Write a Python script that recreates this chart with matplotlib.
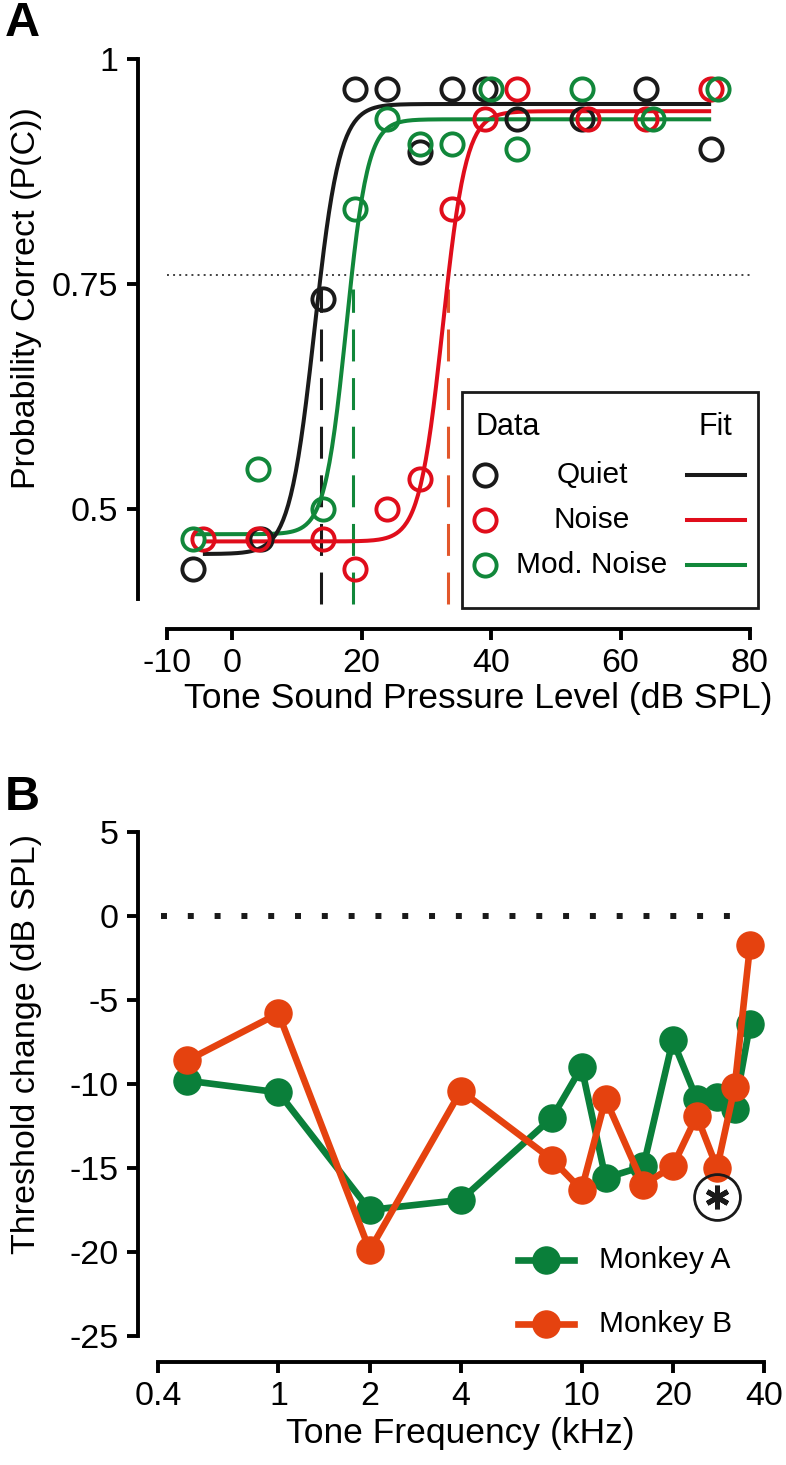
import numpy as np
import matplotlib
matplotlib.use('Agg')
import matplotlib.pyplot as plt
from matplotlib.lines import Line2D
from matplotlib.patches import Rectangle

plt.rcParams['font.family'] = ['Liberation Sans', 'DejaVu Sans']
plt.rcParams['lines.scale_dashes'] = False
plt.rcParams['axes.unicode_minus'] = False

W, H = 786, 1465

# ---- panel A: psychometric data (tone level dB SPL, proportion correct)
level_quiet = [-6, 4.5, 14, 19, 24, 29, 34, 39, 44, 54, 64, 74]
pc_quiet = [0.433, 0.467, 0.733, 0.967, 0.967, 0.897, 0.967, 0.967, 0.933, 0.933, 0.967, 0.9]
level_noise = [-4.5, 4, 14, 19, 24, 29, 34, 39, 44, 55, 64, 74]
pc_noise = [0.467, 0.467, 0.467, 0.433, 0.5, 0.533, 0.833, 0.933, 0.967, 0.933, 0.933, 0.967]
level_mod = [-6, 4, 14, 19, 24, 29, 34, 40, 44, 54, 65, 75]
pc_mod = [0.467, 0.545, 0.5, 0.833, 0.933, 0.906, 0.906, 0.967, 0.9, 0.967, 0.933, 0.967]

# logistic fit parameters: quiet, noise, mod. noise
fit_lo = [0.45, 0.464, 0.472]
fit_hi = [0.95, 0.942, 0.933]
fit_mid = [12.75, 32.55, 17.65]
fit_slope = [1.94, 1.81, 1.66]
fit_start = [-4.5, -4.5, -6]
fit_end = 74
thresholds = [13.75, 33.4, 18.7]
criterion = 0.76

# ---- panel B: threshold change vs tone frequency
freq_khz = [0.5, 1, 2, 4, 8, 10, 12, 16, 20, 24, 28, 32, 36]
monkey_a = [-9.8, -10.5, -17.5, -16.9, -12.0, -9.0, -15.6, -14.9, -7.4, -10.9, -10.8, -11.5, -6.4]
monkey_b = [-8.6, -5.8, -19.9, -10.4, -14.5, -16.3, -10.9, -16.0, -14.9, -11.9, -15.0, -10.2, -1.7]
star_freq, star_val = 28, -16.7

black = '#1a1a1a'
red = '#e00d1b'
green = '#11873a'
red_dash = '#e2572b'
green_b = '#0a7f3a'
orange_b = '#e5420f'


def box(l, t, r, b):
    # pixel box -> figure fraction rect
    return [l / W, 1 - b / H, (r - l) / W, (b - t) / H]


def fx(px):
    return px / W


def fy(py):
    return 1 - py / H


fig = plt.figure(figsize=(W / 100, H / 100), dpi=100)

# ================= panel A =================
ax = fig.add_axes(box(138, 59, 750, 629))
ax.set_xlim(-14.52, 80)
ax.set_ylim(0.3667, 1.0)

ax.plot([-10, 80], [criterion, criterion], color='#333333', lw=1.3,
        linestyle=(0, (1.4, 3.0)), zorder=1)

colors_fit = [black, red, green]
dash_cols = [black, red_dash, green]
for i in range(3):
    ax.plot([thresholds[i], thresholds[i]], [0.394, 0.745], color=dash_cols[i],
            lw=2.2, linestyle=(0, (23, 12)), zorder=2)

for i in [1, 2, 0]:
    xs = np.linspace(fit_start[i], fit_end, 400)
    ys = fit_lo[i] + (fit_hi[i] - fit_lo[i]) / (1 + np.exp(-(xs - fit_mid[i]) / fit_slope[i]))
    ax.plot(xs, ys, color=colors_fit[i], lw=2.9, zorder=3, solid_capstyle='butt')

for lv, pc, c in [(level_quiet, pc_quiet, black), (level_noise, pc_noise, red),
                  (level_mod, pc_mod, green)]:
    ax.plot(lv, pc, 'o', ms=16, mfc='none', mec=c, mew=2.8, clip_on=False, zorder=4)

for s in ['top', 'right']:
    ax.spines[s].set_visible(False)
for s in ['left', 'bottom']:
    ax.spines[s].set_linewidth(2.8)
ax.spines['left'].set_bounds(0.4, 1.0)
ax.spines['bottom'].set_bounds(-10, 80)
ax.set_xticks([-10, 0, 20, 40, 60, 80])
ax.set_xticklabels(['-10', '0', '20', '40', '60', '80'])
ax.set_yticks([0.5, 0.75, 1.0])
ax.set_yticklabels(['0.5', '0.75', '1'])
ax.tick_params(direction='out', length=8, width=2.8, labelsize=24.5, pad=6)

fig.text(fx(478), fy(698), 'Tone Sound Pressure Level (dB SPL)', fontsize=25.5,
         ha='center', va='center')
fig.text(fx(27), fy(298), 'Probability Correct (P(C))', fontsize=24.5,
         rotation=90, ha='center', va='center')
fig.text(fx(22), fy(24), 'A', fontsize=35, fontweight='bold', ha='center', va='center')

# legend A, drawn by hand
fig.add_artist(Rectangle((fx(462), fy(608)), (758 - 462) / W, (608 - 392) / H,
                         transform=fig.transFigure, fill=False, lw=2, ec=black))
fig.text(fx(476), fy(427), 'Data', fontsize=22, ha='left', va='center')
fig.text(fx(715), fy(427), 'Fit', fontsize=22, ha='center', va='center')
leg_rows = [('Quiet', black), ('Noise', red), ('Mod. Noise', green)]
for k, (name, c) in enumerate(leg_rows):
    yy = fy(475 + 45 * k)
    fig.add_artist(Line2D([fx(485)], [yy], marker='o', ms=16, mfc='none', mec=c,
                          mew=2.8, transform=fig.transFigure))
    fig.text(fx(592), yy, name, fontsize=21.5, ha='center', va='center')
    fig.add_artist(Line2D([fx(687), fx(745)], [yy, yy], color=c, lw=2.9,
                          transform=fig.transFigure))

# ================= panel B =================
bx = fig.add_axes(box(138, 832, 764, 1362))
bx.set_xscale('log')
bx.set_xlim(0.344, 40)
bx.set_ylim(-26.55, 5)

bx.plot([0.41, 36], [0, 0], color=black, lw=4.3, linestyle=(0, (4.3, 15.0)),
        solid_capstyle='butt', dash_capstyle='butt', zorder=1)
bx.plot(freq_khz, monkey_a, '-o', color=green_b, lw=4.8, ms=19.5, zorder=3,
        label='Monkey A', clip_on=False)
bx.plot(freq_khz, monkey_b, '-o', color=orange_b, lw=4.8, ms=19.5, zorder=4,
        label='Monkey B', clip_on=False)
bx.plot([star_freq], [star_val], 'o', ms=33, mfc='none', mec=black, mew=2, zorder=5)
bx.plot([star_freq], [star_val], marker=(6, 2, 0), ms=17, mec=black, mew=3.6, zorder=6)

for s in ['top', 'right']:
    bx.spines[s].set_visible(False)
for s in ['left', 'bottom']:
    bx.spines[s].set_linewidth(2.8)
bx.spines['left'].set_bounds(-25, 5)
bx.spines['bottom'].set_bounds(0.4, 40)
bx.set_xticks([0.4, 1, 2, 4, 10, 20, 40])
bx.set_xticklabels(['0.4', '1', '2', '4', '10', '20', '40'])
bx.xaxis.set_minor_locator(matplotlib.ticker.NullLocator())
bx.set_yticks([5, 0, -5, -10, -15, -20, -25])
bx.set_yticklabels(['5', '0', '-5', '-10', '-15', '-20', '-25'])
bx.tick_params(direction='out', length=8, width=2.8, labelsize=24.5, pad=6)

fig.text(fx(460), fy(1433), 'Tone Frequency (kHz)', fontsize=25.5, ha='center', va='center')
fig.text(fx(27), fy(1044), 'Threshold change (dB SPL)', fontsize=24.5,
         rotation=90, ha='center', va='center')
fig.text(fx(22), fy(798), 'B', fontsize=35, fontweight='bold', ha='center', va='center')

# legend B
for k, (name, c) in enumerate([('Monkey A', green_b), ('Monkey B', orange_b)]):
    yy = fy(1260 + 64 * k)
    fig.add_artist(Line2D([fx(518), fx(574)], [yy, yy], color=c, lw=4.8,
                          transform=fig.transFigure))
    fig.add_artist(Line2D([fx(546)], [yy], marker='o', ms=19.5, color=c,
                          transform=fig.transFigure))
    fig.text(fx(599), yy, name, fontsize=21.5, ha='left', va='center')

fig.savefig('out.png', dpi=100)
